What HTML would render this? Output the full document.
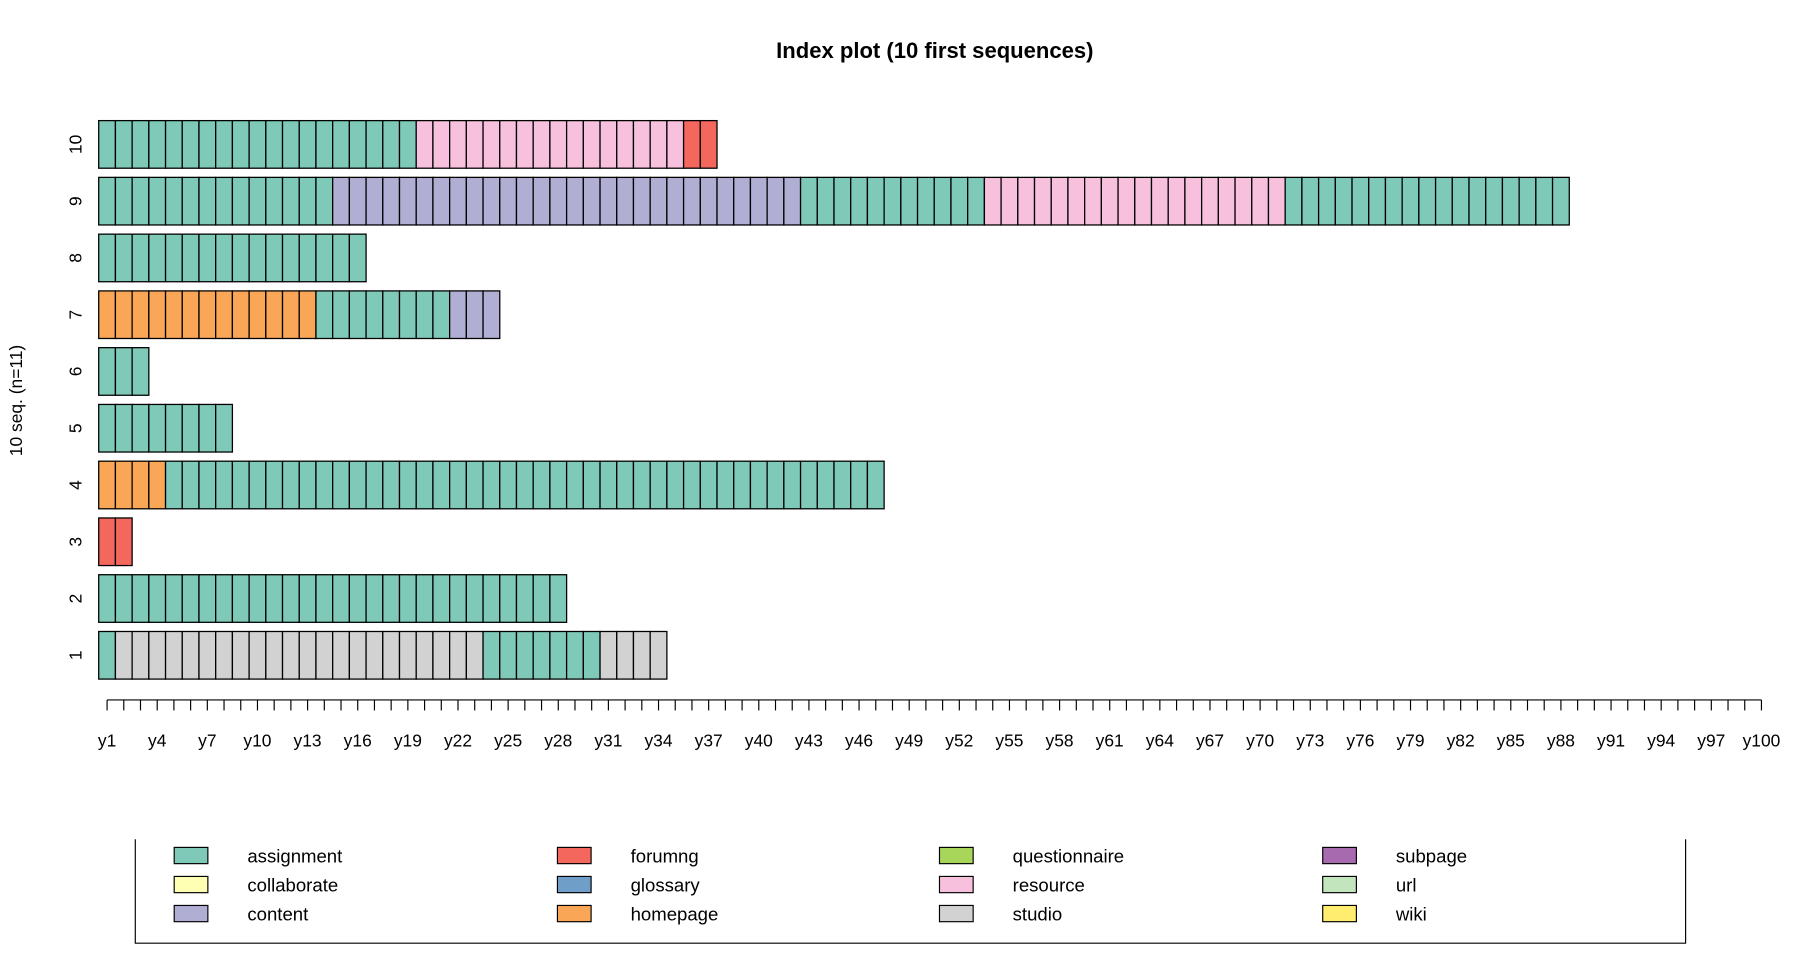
<!DOCTYPE html>
<html><head><meta charset="utf-8"><style>html,body{margin:0;padding:0;background:#fff}svg{display:block}text{font-family:"Liberation Sans",Arial,sans-serif}</style></head>
<body>
<svg id="c" width="1800" height="960" viewBox="0 0 1550 827" preserveAspectRatio="none" xmlns="http://www.w3.org/2000/svg">
<text x="805" y="50" text-anchor="middle" font-size="19" font-weight="bold">Index plot (10 first sequences)</text>
<text transform="translate(19,345) rotate(-90)" text-anchor="middle" font-size="15">10 seq. (n=11)</text>
</svg>
<script>
const states=["assignment","collaborate","content","forumng","glossary","homepage","questionnaire","resource","studio","subpage","url","wiki"];
const stateColors=["#7ec9b7","#ffffb3","#b0aed3","#f4675d","#6f9fc8","#f9a656","#a7d65a","#f7c0dd","#d2d2d2","#a86aae","#c3e5bd","#ffed6f"];
// each sequence: runs of [state, length]
const seqRuns=[
 [["assignment",1],["studio",22],["assignment",7],["studio",4]],
 [["assignment",28]],
 [["forumng",2]],
 [["homepage",4],["assignment",43]],
 [["assignment",8]],
 [["assignment",3]],
 [["homepage",13],["assignment",8],["content",3]],
 [["assignment",16]],
 [["assignment",14],["content",28],["assignment",11],["resource",18],["assignment",17]],
 [["assignment",19],["resource",16],["forumng",2]]
];
const nTicks=100;
const svg=document.getElementById('c');const NS="http://www.w3.org/2000/svg";
function mk(t,a){const e=document.createElementNS(NS,t);for(const k in a)e.setAttribute(k,a[k]);svg.appendChild(e);return e;}
const x0=85,cw=14.39;
const xPos=i=>x0+cw*i; // left edge of position i (0-based)
const rowTop=r=>544-48.9*r; // r 0-based from bottom
const rowH=41;
seqRuns.forEach((runs,r)=>{
 let pos=0;
 runs.forEach(([s,len])=>{
  for(let k=0;k<len;k++){
   const e=mk('rect',{x:xPos(pos),y:rowTop(r),width:cw,height:rowH,fill:stateColors[states.indexOf(s)],stroke:"#000","stroke-width":1.1});
   
   
   pos++;
  }
 });
 const t=mk('text',{transform:`translate(70,${rowTop(r)+rowH/2}) rotate(-90)`,"text-anchor":"middle","font-size":15});
 t.textContent=String(r+1);
 
 
});
const ax=mk('line',{x1:xPos(0)+cw/2,x2:xPos(nTicks-1)+cw/2,y1:603,y2:603,stroke:"#000","stroke-width":1});


for(let i=0;i<nTicks;i++){
 const cx=xPos(i)+cw/2;
 const tk=mk('line',{x1:cx,x2:cx,y1:603,y2:612,stroke:"#000","stroke-width":1});
 
 
 if(i%3===0){
  const t=mk('text',{x:cx,y:643,"text-anchor":"middle","font-size":15});
  t.textContent='y'+(i+1);
  
  
 }
}
const lb=mk('path',{d:"M116.5,723 V812.5 H1451.5 V723",fill:"none",stroke:"#000","stroke-width":1});


const colX=[150,480,809,1139],rowY=[737,762,787];
states.forEach((s,i)=>{
 const c=Math.floor(i/3),r=i%3;
 const sw=mk('rect',{x:colX[c],y:rowY[r]-7,width:29,height:14,fill:stateColors[i],stroke:"#000","stroke-width":1});
 
 
 const t=mk('text',{x:colX[c]+63,y:rowY[r]+6,"font-size":16});
 t.textContent=s;
 
 
});
</script>
</body></html>
